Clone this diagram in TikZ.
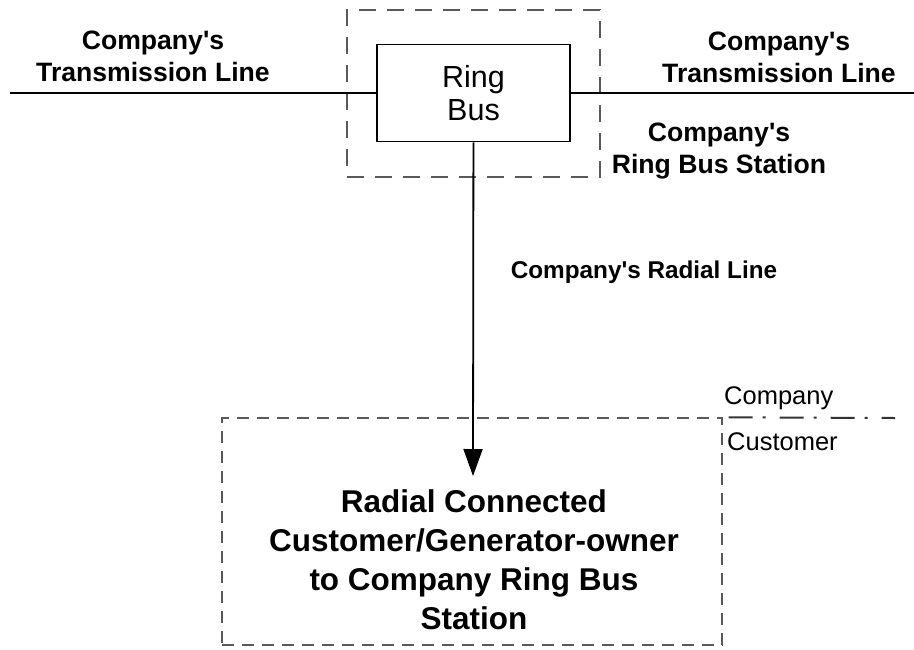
\documentclass[tikz,border=0pt]{standalone}
\usepackage{fontspec}
\setmainfont{Liberation Sans}
\usetikzlibrary{arrows.meta}
\newcommand{\ap}{\textquotesingle}
\begin{document}
\begin{tikzpicture}[x=1pt,y=-1pt]

\def\lw{1.8pt}
\tikzstyle{block} = [
	draw, line width=\lw, rectangle, align=center, inner sep=0pt,
	minimum height=97, minimum width=193,
	font=\fontsize{30.5}{33}\selectfont ];
\tikzstyle{zone} = [
	draw=black!65, line width=1.4pt, rectangle, inner sep=0pt ];
\tikzstyle{lbl} = [align=center, inner sep=0pt,
	font=\bfseries\fontsize{26.6}{32}\selectfont];
\tikzstyle{side} = [anchor=west, inner sep=0pt,
	font=\fontsize{25.5}{30}\selectfont];
\useasboundingbox (0,0) rectangle (914,649);

% station and ring bus
\node[zone,dash pattern=on 17pt off 11pt,
	minimum width=253, minimum height=167] (st) at (473.5,93.5) {};
\node[block] (rb) at (473.5,93) {Ring\\Bus};

% transmission lines
\coordinate (tl) at (10,93);
\coordinate (tr) at (914,93);
\draw[line width=\lw] (tl) -- (rb);
\draw[line width=\lw] (rb) -- (tr);
\node[lbl] (tll) at (153,56) {Company\ap s\\Transmission Line};
\node[lbl] (trl) at (779,57) {Company\ap s\\Transmission Line};
\node[lbl] (stl) at (719,151) {Company\ap s\\Ring Bus Station};

% customer
\node[zone,dash pattern=on 12pt off 8pt,
	minimum width=500, minimum height=227] (cu) at (472,531.5) {};
\node[lbl,font=\bfseries\fontsize{31.5}{39}\selectfont] (ct) at (474,560)
	{Radial Connected\\Customer/Generator-owner\\to Company Ring Bus\\Station};

% radial line
\coordinate (tip) at (473,476);
\draw[line width=\lw,-{Triangle[length=27pt,width=19pt]}] (rb) -- (tip);
\node[lbl,font=\bfseries\fontsize{24.3}{30}\selectfont] (rl) at (644,272)
	{Company\ap s Radial Line};

% ownership boundary
\coordinate (bd) at (895,418);
\draw[line width=2pt,black!80,dash pattern=on 24pt off 10pt on 3pt off 14pt,
	dash phase=-6pt] (cu.north east) -- (bd);
\node[side] (co) at (724,398) {Company};
\node[side] (cs) at (727,442) {Customer};

\end{tikzpicture}
\end{document}
